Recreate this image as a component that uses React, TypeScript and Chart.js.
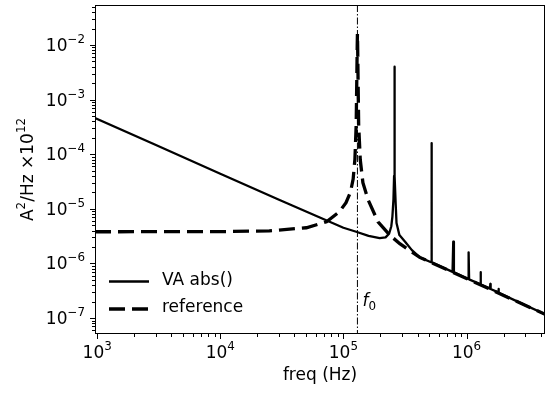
import React, { useEffect, useRef } from "react";
import { Chart, registerables } from "chart.js";

Chart.register(...registerables);

// ---- data ----
const vaFreq = [
  960, 3000, 1e4, 3e4, 1e5, 1.27e5, 1.6e5, 1.97e5, 2.2e5, 2.35e5, 2.45e5, 2.5e5, 2.55e5,
  2.58e5, 2.595e5, 2.6e5, 2.605e5, 2.62e5, 2.66e5, 2.7e5, 2.85e5, 3.17e5, 3.6e5, 4.17e5,
  5.1e5, 5.18e5, 5.2e5, 5.22e5, 7.7e5, 7.8e5, 7.9e5, 1.03e6, 1.04e6, 1.05e6, 1.29e6,
  1.3e6, 1.31e6, 1.55e6, 1.56e6, 1.57e6, 1.81e6, 1.82e6, 1.83e6, 2.6e6, 4.34e6,
];
const vaValue = [
  4.6e-4, 1.47e-4, 4.4e-5, 1.47e-5, 4.5e-6, 3.8e-6, 3.2e-6, 2.9e-6, 3.0e-6, 3.5e-6, 4.8e-6, 7.2e-6, 1.5e-5,
  4e-5, 5e-4, 4e-3, 5e-4, 4e-5, 1.2e-5, 5.5e-6, 3.3e-6, 2.5e-6, 1.75e-6, 1.29e-6,
  1.06e-6, 1.07e-6, 1.6e-4, 1.05e-6, 7.0e-7, 2.5e-6, 6.9e-7, 5.2e-7, 1.6e-6, 5.1e-7, 4.15e-7,
  6.9e-7, 4.1e-7, 3.45e-7, 4.2e-7, 3.4e-7, 2.95e-7, 3.4e-7, 2.9e-7, 2.0e-7, 1.17e-7,
];
const refFreq = [
  960, 1e4, 2.5e4, 5e4, 7.3e4, 9.3e4, 1.05e5, 1.14e5, 1.2e5, 1.24e5, 1.27e5, 1.285e5, 1.295e5,
  1.3e5, 1.305e5, 1.315e5, 1.33e5, 1.37e5, 1.44e5, 1.59e5, 1.91e5, 2.38e5, 2.87e5, 4.17e5,
  1e6, 4.34e6,
];
const refValue = [
  3.8e-6, 3.82e-6, 3.95e-6, 4.5e-6, 5.8e-6, 8.9e-6, 1.3e-5, 2.0e-5, 3.5e-5, 8e-5, 3.5e-4, 2.5e-3, 1.0e-2,
  1.6e-2, 1.0e-2, 2.5e-3, 3.5e-4, 8e-5, 3.0e-5, 1.45e-5, 5.8e-6, 3.3e-6, 2.3e-6, 1.29e-6,
  5.3e-7, 1.17e-7,
];
const f0 = 1.3e5;
const seriesLabels = ["VA abs()", "reference"];
const xTickExps = [3, 4, 5, 6];
const yTickExps = [-7, -6, -5, -4, -3, -2];
const xTitle = "freq (Hz)";
const xMin = 960;
const xMax = 4.34e6;
const yMin = 5.1e-8;
const yMax = 5.4e-2;

const FONT = "DejaVu Sans";
const FS = 17;
const SOLID_W = 2.3;
const DASH_W = 3.3;

function drawPow(
  ctx: CanvasRenderingContext2D,
  exp: number,
  x: number,
  y: number,
  align: "right" | "center",
  size: number
) {
  const base = "10";
  const sup = exp < 0 ? "\u2212" + Math.abs(exp) : String(exp);
  const supSize = size * 0.7;
  ctx.font = `${size}px "${FONT}"`;
  const wb = ctx.measureText(base).width;
  ctx.font = `${supSize}px "${FONT}"`;
  const ws = ctx.measureText(sup).width;
  const total = wb + ws;
  const x0 = align === "right" ? x - total : x - total / 2;
  ctx.textAlign = "left";
  ctx.textBaseline = "alphabetic";
  ctx.font = `${size}px "${FONT}"`;
  ctx.fillText(base, x0, y);
  ctx.font = `${supSize}px "${FONT}"`;
  ctx.fillText(sup, x0 + wb, y - size * 0.47);
}

function drawRich(
  ctx: CanvasRenderingContext2D,
  parts: { t: string; sup?: boolean }[],
  size: number
) {
  const widths = parts.map((p) => {
    ctx.font = `${p.sup ? size * 0.7 : size}px "${FONT}"`;
    return ctx.measureText(p.t).width;
  });
  const total = widths.reduce((a, b) => a + b, 0);
  let cx = -total / 2;
  ctx.textAlign = "left";
  ctx.textBaseline = "alphabetic";
  parts.forEach((p, i) => {
    ctx.font = `${p.sup ? size * 0.7 : size}px "${FONT}"`;
    ctx.fillText(p.t, cx, p.sup ? -size * 0.47 : 0);
    cx += widths[i];
  });
}

const decorPlugin = {
  id: "decor",
  beforeDatasetsDraw(chart: any) {
    const { ctx, chartArea: a, scales } = chart;
    const px = scales.x.getPixelForValue(f0);
    ctx.save();
    ctx.beginPath();
    ctx.setLineDash([7, 2, 1.5, 2]);
    ctx.lineWidth = 1;
    ctx.strokeStyle = "#000";
    ctx.moveTo(px, a.top);
    ctx.lineTo(px, a.bottom);
    ctx.stroke();
    ctx.restore();
  },
  afterDraw(chart: any) {
    const { ctx, chartArea: a, scales } = chart;
    const xs = scales.x;
    const ys = scales.y;
    ctx.save();
    ctx.setLineDash([]);
    ctx.strokeStyle = "#000";
    ctx.fillStyle = "#000";
    ctx.lineWidth = 1;
    // spines
    ctx.strokeRect(
      Math.round(a.left) + 0.5,
      Math.round(a.top) + 0.5,
      Math.round(a.right - a.left) - 1,
      Math.round(a.bottom - a.top) - 1
    );

    // x ticks
    for (let e = 2; e <= 7; e++) {
      for (let m = 1; m <= 9; m++) {
        const v = m * Math.pow(10, e);
        if (v < xMin || v > xMax) continue;
        const p = Math.round(xs.getPixelForValue(v)) + 0.5;
        const len = m === 1 ? 5 : 3;
        ctx.beginPath();
        ctx.moveTo(p, a.bottom);
        ctx.lineTo(p, a.bottom + len);
        ctx.stroke();
      }
    }
    // y ticks
    for (let e = -9; e <= -1; e++) {
      for (let m = 1; m <= 9; m++) {
        const v = m * Math.pow(10, e);
        if (v < yMin || v > yMax) continue;
        const p = Math.round(ys.getPixelForValue(v)) + 0.5;
        const len = m === 1 ? 5 : 3;
        ctx.beginPath();
        ctx.moveTo(a.left, p);
        ctx.lineTo(a.left - len, p);
        ctx.stroke();
      }
    }
    // tick labels
    xTickExps.forEach((e) => {
      const p = xs.getPixelForValue(Math.pow(10, e));
      drawPow(ctx, e, p, a.bottom + 24, "center", FS);
    });
    yTickExps.forEach((e) => {
      const p = ys.getPixelForValue(Math.pow(10, e));
      drawPow(ctx, e, a.left - 10, p + 6, "right", FS);
    });

    // x title
    ctx.font = `${FS}px "${FONT}"`;
    ctx.textAlign = "center";
    ctx.textBaseline = "alphabetic";
    ctx.fillText(xTitle, (a.left + a.right) / 2, a.bottom + 46);

    // y title
    ctx.save();
    ctx.translate(33, (a.top + a.bottom) / 2);
    ctx.rotate(-Math.PI / 2);
    drawRich(
      ctx,
      [{ t: "A" }, { t: "2", sup: true }, { t: "/Hz \u00d710" }, { t: "12", sup: true }],
      FS
    );
    ctx.restore();

    // f0 label
    const fx = xs.getPixelForValue(f0);
    ctx.textAlign = "left";
    ctx.font = `oblique ${FS}px "${FONT}"`;
    ctx.fillText("f", fx + 5, 306);
    const fw = ctx.measureText("f").width;
    ctx.font = `${FS * 0.7}px "${FONT}"`;
    ctx.fillText("0", fx + 5 + fw, 310);

    // legend
    const lx0 = 109;
    const lx1 = 149;
    ctx.lineWidth = SOLID_W;
    ctx.beginPath();
    ctx.moveTo(lx0, 281.5);
    ctx.lineTo(lx1, 281.5);
    ctx.stroke();
    ctx.lineWidth = DASH_W;
    ctx.setLineDash([16, 7]);
    ctx.beginPath();
    ctx.moveTo(lx0, 309);
    ctx.lineTo(lx1 + 2, 309);
    ctx.stroke();
    ctx.setLineDash([]);
    ctx.font = `${FS}px "${FONT}"`;
    ctx.textBaseline = "middle";
    ctx.fillText(seriesLabels[0], 162, 281);
    ctx.fillText(seriesLabels[1], 162, 308);
    ctx.restore();
  },
};

export default function App() {
  const ref = useRef<HTMLCanvasElement | null>(null);
  useEffect(() => {
    document.body.style.margin = "0";
    const canvas = ref.current;
    if (!canvas) return;
    const vaData = vaFreq.map((f, i) => ({ x: f, y: vaValue[i] }));
    const refData = refFreq.map((f, i) => ({ x: f, y: refValue[i] }));
    const chart = new Chart(canvas, {
      type: "line",
      data: {
        datasets: [
          {
            label: seriesLabels[0],
            data: vaData,
            borderColor: "#000",
            borderWidth: SOLID_W,
            pointRadius: 0,
            tension: 0,
            borderJoinStyle: "round",
            fill: false,
            order: 1,
          },
          {
            label: seriesLabels[1],
            data: refData,
            borderColor: "#000",
            borderWidth: DASH_W,
            borderDash: [16, 7],
            pointRadius: 0,
            tension: 0,
            fill: false,
            order: 0,
          },
        ],
      },
      options: {
        animation: false,
        responsive: false,
        devicePixelRatio: 1,
        events: [],
        layout: { padding: { top: 5, right: 9, left: 0, bottom: 0 } },
        plugins: { legend: { display: false }, tooltip: { enabled: false } },
        scales: {
          x: {
            type: "logarithmic",
            min: xMin,
            max: xMax,
            grid: { display: false },
            border: { display: false },
            ticks: { display: false },
            afterFit: (s: any) => {
              s.height = 59;
            },
          },
          y: {
            type: "logarithmic",
            min: yMin,
            max: yMax,
            grid: { display: false },
            border: { display: false },
            ticks: { display: false },
            afterFit: (s: any) => {
              s.width = 95;
            },
          },
        },
      },
      plugins: [decorPlugin],
    } as any);
    return () => chart.destroy();
  }, []);
  return (
    <canvas
      ref={ref}
      width={554}
      height={393}
      style={{ display: "block", width: 554, height: 393 }}
    />
  );
}
